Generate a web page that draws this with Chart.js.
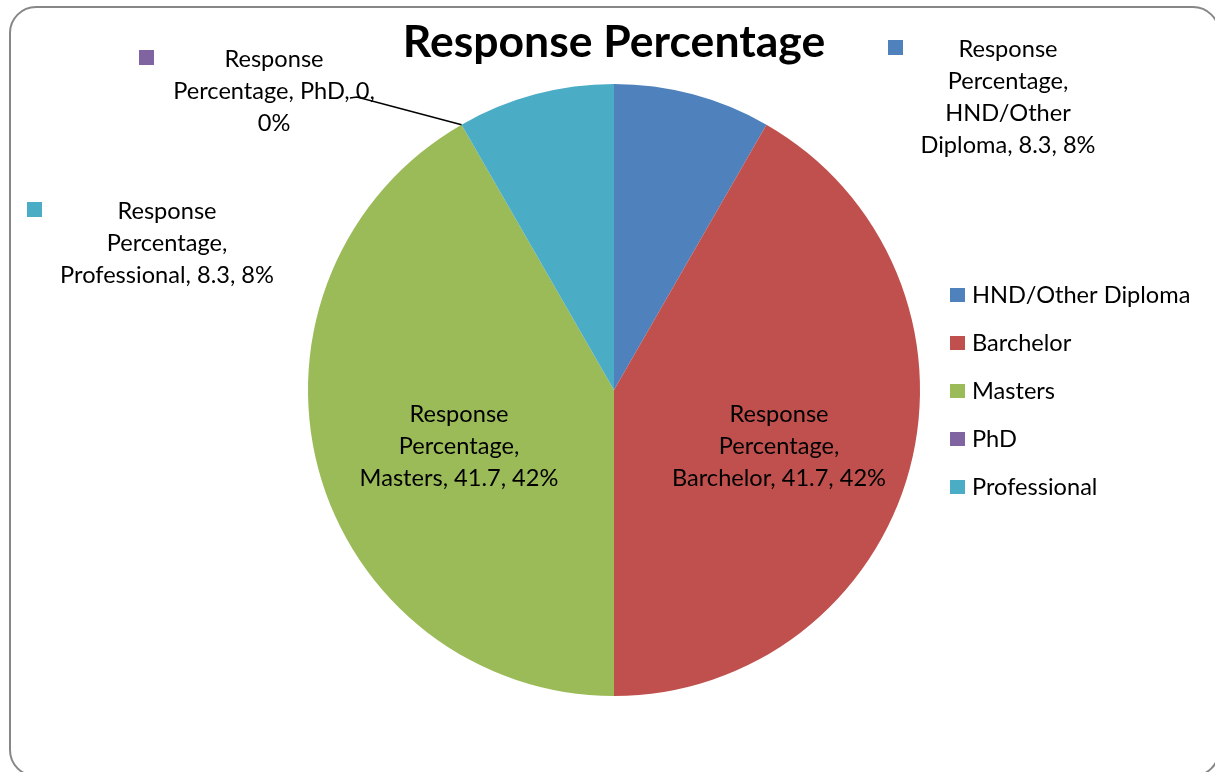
<!DOCTYPE html>
<html>
<head>
<meta charset="utf-8">
<script src="https://cdn.jsdelivr.net/npm/chart.js@4.4.1/dist/chart.umd.min.js"></script>
<style>
  html, body { margin: 0; padding: 0; background: #ffffff; }
  #wrap { width: 1215px; height: 772px; }
</style>
</head>
<body>
<div id="wrap"><canvas id="pie" width="1215" height="772"></canvas></div>
<script>
const seriesName = "Response Percentage";
const categories = ["HND/Other Diploma", "Barchelor", "Masters", "PhD", "Professional"];
const responsePct = [8.3, 41.7, 41.7, 0, 8.3];
const sliceColors = ["#4F81BD", "#C0504D", "#9BBB59", "#8064A2", "#4BACC6"];

const FONT = "Lato, 'Open Sans', sans-serif";
const TEXT_SIZE = 23.6;
const LINE_H = 32;

// where each data label block sits (center x, first line y), words per line,
// and for outside labels how far left of center the colour key goes
const labelLayout = [
  { x: 1008, y: 49, lines: [1, 1, 1, 3], keyDx: 120 },
  { x: 779, y: 414, lines: [1, 1, 3] },
  { x: 459, y: 414, lines: [1, 1, 3] },
  { x: 274, y: 59, lines: [1, 3, 1], keyDx: 135, leader: { x: 350, y: 98 } },
  { x: 167, y: 211, lines: [1, 1, 3], keyDx: 140 }
];

function labelLines(i) {
  const total = responsePct.reduce((a, b) => a + b, 0);
  const pct = Math.round(responsePct[i] / total * 100);
  const words = `${seriesName}, ${categories[i]}, ${responsePct[i]}, ${pct}%`.split(" ");
  const out = [];
  let k = 0;
  labelLayout[i].lines.forEach(n => {
    out.push(words.slice(k, k + n).join(" "));
    k += n;
  });
  return out;
}

function roundRect(ctx, x, y, w, h, r) {
  ctx.beginPath();
  ctx.moveTo(x + r, y);
  ctx.lineTo(x + w - r, y);
  ctx.arcTo(x + w, y, x + w, y + r, r);
  ctx.lineTo(x + w, y + h - r);
  ctx.arcTo(x + w, y + h, x + w - r, y + h, r);
  ctx.lineTo(x + r, y + h);
  ctx.arcTo(x, y + h, x, y + h - r, r);
  ctx.lineTo(x, y + r);
  ctx.arcTo(x, y, x + r, y, r);
  ctx.closePath();
}

const framePlugin = {
  id: "frame",
  beforeDraw(chart) {
    const ctx = chart.ctx;
    ctx.save();
    ctx.fillStyle = "#ffffff";
    ctx.fillRect(0, 0, chart.width, chart.height);
    ctx.strokeStyle = "#878787";
    ctx.lineWidth = 2;
    roundRect(ctx, 10, 7, 1209, 769, 26);
    ctx.stroke();
    ctx.restore();
  }
};

const labelPlugin = {
  id: "sliceLabels",
  afterDatasetsDraw(chart) {
    const ctx = chart.ctx;
    const arcs = chart.getDatasetMeta(0).data;
    ctx.save();

    // title
    ctx.fillStyle = "#000000";
    ctx.font = `bold 44.5px ${FONT}`;
    ctx.textAlign = "center";
    ctx.textBaseline = "middle";
    ctx.fillText(seriesName, 614, 43);

    // data labels
    ctx.font = `${TEXT_SIZE}px ${FONT}`;
    categories.forEach((c, i) => {
      const spot = labelLayout[i];
      const lines = labelLines(i);
      ctx.textAlign = "center";
      ctx.fillStyle = "#000000";
      lines.forEach((t, j) => ctx.fillText(t, spot.x, spot.y + j * LINE_H));
      if (spot.keyDx) {
        ctx.fillStyle = sliceColors[i];
        ctx.fillRect(spot.x - spot.keyDx, spot.y - 9, 15, 15);
      }
      if (spot.leader) {
        const arc = arcs[i];
        const ex = arc.x + arc.outerRadius * Math.cos(arc.startAngle);
        const ey = arc.y + arc.outerRadius * Math.sin(arc.startAngle);
        ctx.strokeStyle = "#000000";
        ctx.lineWidth = 1.5;
        ctx.beginPath();
        ctx.moveTo(spot.leader.x, spot.leader.y);
        ctx.lineTo(spot.leader.x + 7, spot.leader.y - 1);
        ctx.lineTo(ex, ey);
        ctx.stroke();
      }
    });

    // legend
    ctx.textAlign = "left";
    categories.forEach((c, i) => {
      const y = 295 + i * 48;
      ctx.fillStyle = sliceColors[i];
      ctx.fillRect(950, y - 7, 15, 14);
      ctx.fillStyle = "#000000";
      ctx.fillText(c, 972, y);
    });

    ctx.restore();
  }
};

new Chart(document.getElementById("pie"), {
  type: "pie",
  data: {
    labels: categories,
    datasets: [{
      label: seriesName,
      data: responsePct,
      backgroundColor: sliceColors,
      borderWidth: 0
    }]
  },
  options: {
    responsive: false,
    animation: false,
    radius: 306,
    layout: { padding: { left: 13, right: 0, top: 8, bottom: 0 } },
    plugins: {
      legend: { display: false },
      title: { display: false },
      tooltip: { enabled: false }
    }
  },
  plugins: [framePlugin, labelPlugin]
});
</script>
</body>
</html>
